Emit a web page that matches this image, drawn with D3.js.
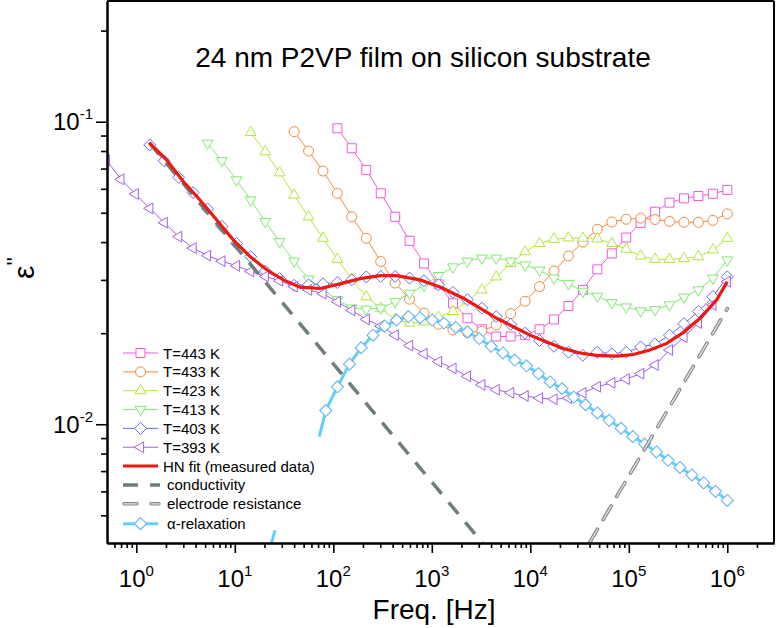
<!DOCTYPE html>
<html><head><meta charset="utf-8">
<script src="https://cdn.jsdelivr.net/npm/d3@7"></script>
<style>
body{margin:0;background:#fff}
svg{display:block}
text{font-family:Arial,"Liberation Sans",Helvetica,sans-serif;fill:#000}
</style>
</head><body>
<svg id="chart" width="776" height="628"></svg>
<script>
// ---------------- DATA ----------------
const freq = [0.497, 0.697, 0.976, 1.37, 1.92, 2.69, 3.77, 5.28, 7.40, 10.4, 14.5, 20.4, 28.5, 40.0, 56.1, 78.6,
  110, 154, 216, 303, 425, 595, 834, 1170, 1640, 2300, 3220, 4510, 6320, 8860, 12400, 17400, 24400, 34200,
  47900, 67200, 94100, 132000, 185000, 259000, 363000, 509000, 714000, 1000000];

const seriesNames = ["T=443 K", "T=433 K", "T=423 K", "T=413 K", "T=403 K", "T=393 K"];

const eps443 = [null, null, null, null, null, null, null, null, null, null, null, null, null, null, null, null,
  0.0951, 0.0817, 0.0693, 0.0580, 0.0485, 0.0404, 0.0340, 0.0290, 0.0251, 0.0224, 0.0206, 0.0195, 0.0195, 0.0197,
  0.0206, 0.0222, 0.0246, 0.0278, 0.0325, 0.0367, 0.0414, 0.0463, 0.0504, 0.0540, 0.0558, 0.0568, 0.0578, 0.0595];
const eps433 = [null, null, null, null, null, null, null, null, null, null, null, null, null,
  0.0927, 0.0800, 0.0687, 0.0580, 0.0485, 0.0412, 0.0345, 0.0293, 0.0259, 0.0233, 0.0214, 0.0205, 0.0201, 0.0203,
  0.0213, 0.0232, 0.0255, 0.0285, 0.0321, 0.0360, 0.0400, 0.0441, 0.0466, 0.0476, 0.0480, 0.0475, 0.0468, 0.0465,
  0.0465, 0.0472, 0.0496];
const eps423 = [null, null, null, null, null, null, null, null, null, null,
  0.0922, 0.0796, 0.0678, 0.0572, 0.0485, 0.0412, 0.0351, 0.0302, 0.0264, 0.0242, 0.0222, 0.0216, 0.0218, 0.0226,
  0.0236, 0.0256, 0.0278, 0.0307, 0.0340, 0.0372, 0.0396, 0.0409, 0.0413, 0.0412, 0.0410, 0.0396, 0.0379, 0.0360,
  0.0351, 0.0351, 0.0353, 0.0358, 0.0377, 0.0412];
const eps413 = [null, null, null, null, null, null, null,
  0.0849, 0.0743, 0.0642, 0.0551, 0.0467, 0.0401, 0.0346, 0.0302, 0.0279, 0.0258, 0.0242, 0.0240, 0.0242, 0.0254,
  0.0271, 0.0288, 0.0310, 0.0331, 0.0346, 0.0354, 0.0354, 0.0346, 0.0336, 0.0323, 0.0304, 0.0292, 0.0275, 0.0265,
  0.0252, 0.0244, 0.0237, 0.0239, 0.0248, 0.0263, 0.0278, 0.0304, 0.0349];
const eps403 = [null, null, null,
  0.0838, 0.0742, 0.0655, 0.0583, 0.0515, 0.0451, 0.0396, 0.0358, 0.0321, 0.0303, 0.0288, 0.0289, 0.0291, 0.0294,
  0.0300, 0.0307, 0.0308, 0.0308, 0.0304, 0.0298, 0.0289, 0.0273, 0.0258, 0.0242, 0.0227, 0.0214, 0.0200, 0.0189,
  0.0181, 0.0173, 0.0169, 0.0173, 0.0171, 0.0173, 0.0180, 0.0184, 0.0197, 0.0215, 0.0236, 0.0264, 0.0307];
const eps393 = [0.0747, 0.0645, 0.0577, 0.0517, 0.0464, 0.0417, 0.0382, 0.0361, 0.0346, 0.0334, 0.0320, 0.0308,
  0.0298, 0.0285, 0.0278, 0.0270, 0.0254, 0.0238, 0.0222, 0.0211, 0.0197, 0.0182, 0.0171, 0.0161, 0.0153, 0.0144,
  0.0135, 0.0130, 0.0127, 0.0124, 0.0122, 0.0121, 0.0122, 0.0127, 0.0133, 0.0137, 0.0141, 0.0147, 0.0157, 0.0176,
  0.0194, 0.0216, 0.0248, 0.0296];

// HN fit of the measured data (T=403 K)
const hnFreq = [1.355, 2.035, 3.00, 4.43, 6.55, 9.65, 14.3, 21.1, 31.1, 45.9, 73.3, 117, 187, 298, 440, 759, 1211,
  2089, 3085, 4560, 6720, 9930, 14680, 21630, 31960, 47210, 75340, 111100, 164100, 242500, 357500, 528000, 781000, 1000000];
const hnVal = [0.0852, 0.0747, 0.0634, 0.0551, 0.0473, 0.0407, 0.0358, 0.0324, 0.0300, 0.0284, 0.0281, 0.0291,
  0.0303, 0.0310, 0.0310, 0.0300, 0.0284, 0.0261, 0.0242, 0.0224, 0.0210, 0.0197, 0.0187, 0.0178, 0.0172, 0.0169,
  0.0168, 0.0170, 0.0176, 0.0185, 0.0201, 0.0224, 0.0258, 0.0296];

// conductivity contribution
const condFreq = [1.355, 3270];
const condVal = [0.0852, 0.00405];

// electrode resistance contribution
const elecFreq = [39800, 1000000];
const elecVal = [0.00405, 0.0241];

// alpha-relaxation
const alphaFreq = [83.8, 110, 146, 192, 253, 333, 439, 579, 763, 1010, 1330, 1750, 2300, 3030, 4000, 5270, 6950,
  9160, 12100, 15900, 21000, 27600, 36400, 48000, 63200, 83400, 110000, 145000, 191000, 251000, 331000, 437000,
  576000, 759000, 1000000];
const alphaVal = [0.0111, 0.0133, 0.0158, 0.0179, 0.0197, 0.0211, 0.0221, 0.0227, 0.0225, 0.0221, 0.0216, 0.0209,
  0.0202, 0.0192, 0.0181, 0.0172, 0.0163, 0.0156, 0.0147, 0.0138, 0.0131, 0.0123, 0.0116, 0.0109, 0.0103, 0.0097,
  0.0091, 0.0086, 0.0081, 0.0076, 0.0072, 0.0068, 0.0064, 0.0060, 0.0056];
// low-frequency wing of the alpha curve (visible pieces)
const alphaWingFreq = [23.6, 25.6, 72.1];
const alphaWingVal = [0.00405, 0.00447, 0.0091];

const xMajor = [1, 10, 100, 1000, 10000, 100000, 1000000];
const xMajorExp = ["0", "1", "2", "3", "4", "5", "6"];
const yMajor = [0.01, 0.1];
const yMajorExp = ["-2", "-1"];

const titleText = "24 nm P2VP film on silicon substrate";
const xTitle = "Freq. [Hz]";

// ---------------- STYLE ----------------
const seriesColors = ["#ef5ad9", "#f28a3c", "#b4e63c", "#7eea6e", "#5f70f0", "#a25ff0"];
const seriesShapes = ["square", "circle", "up", "down", "diamond", "left"];

const svg = d3.select("#chart");
const L = 107, R = 774, T = 1, B = 543;
const x = d3.scaleLog().domain([0.504, 2.98e6]).range([L, R]);
const y = d3.scaleLog().domain([0.00405, 0.2506]).range([B, T]);

function shapePath(type) {
  const p = d3.path();
  if (type === "square") { p.rect(-4.5, -4.5, 9, 9); }
  else if (type === "circle") { p.arc(0, 0, 5, 0, 2 * Math.PI); p.closePath(); }
  else if (type === "up") { p.moveTo(0, -6.2); p.lineTo(5.4, 3.1); p.lineTo(-5.4, 3.1); p.closePath(); }
  else if (type === "down") { p.moveTo(0, 6.2); p.lineTo(5.4, -3.1); p.lineTo(-5.4, -3.1); p.closePath(); }
  else if (type === "diamond") { p.moveTo(0, -6); p.lineTo(6, 0); p.lineTo(0, 6); p.lineTo(-6, 0); p.closePath(); }
  else if (type === "left") { p.moveTo(-6.2, 0); p.lineTo(3.1, -5.4); p.lineTo(3.1, 5.4); p.closePath(); }
  return p.toString();
}

svg.append("defs").append("clipPath").attr("id", "plotclip")
  .append("rect").attr("x", L).attr("y", T).attr("width", R - L).attr("height", B - T);

const plot = svg.append("g").attr("clip-path", "url(#plotclip)");

const line = d3.line().defined(d => d[1] != null).x(d => x(d[0])).y(d => y(d[1]));

// measured series
const allSeries = [eps443, eps433, eps423, eps413, eps403, eps393];
allSeries.forEach((vals, si) => {
  const pts = freq.map((f, i) => [f, vals[i]]);
  plot.append("path").attr("d", line(pts)).attr("fill", "none")
    .attr("stroke", seriesColors[si]).attr("stroke-width", 1);
  plot.append("g").selectAll("path").data(pts.filter(d => d[1] != null)).join("path")
    .attr("transform", d => `translate(${x(d[0])},${y(d[1])})`)
    .attr("d", shapePath(seriesShapes[si]))
    .attr("fill", "#fff").attr("stroke", seriesColors[si]).attr("stroke-width", 1);
});

// alpha relaxation
const alphaColor = "#62cff5", alphaMarker = "#66b5f8";
plot.append("path").attr("d", line(alphaWingFreq.slice(0, 2).map((f, i) => [f, alphaWingVal[i]])))
  .attr("fill", "none").attr("stroke", alphaColor).attr("stroke-width", 3);
const alphaPts = [[alphaWingFreq[2], alphaWingVal[2]]].concat(alphaFreq.map((f, i) => [f, alphaVal[i]]));
plot.append("path").attr("d", line(alphaPts)).attr("fill", "none")
  .attr("stroke", alphaColor).attr("stroke-width", 3);
plot.append("g").selectAll("path").data(alphaFreq.map((f, i) => [f, alphaVal[i]])).join("path")
  .attr("transform", d => `translate(${x(d[0])},${y(d[1])})`)
  .attr("d", shapePath("diamond")).attr("fill", "#fff").attr("stroke", alphaMarker).attr("stroke-width", 1.1);

// conductivity
const condColor = "#6f7d7d";
plot.append("path").attr("d", line(condFreq.map((f, i) => [f, condVal[i]])))
  .attr("fill", "none").attr("stroke", condColor).attr("stroke-width", 3.5).attr("stroke-dasharray", "15,11");

// electrode resistance (hollow dashed)
const elecPts = elecFreq.map((f, i) => [f, elecVal[i]]);
plot.append("path").attr("d", line(elecPts)).attr("fill", "none")
  .attr("stroke", "#7f8888").attr("stroke-width", 3.6).attr("stroke-dasharray", "16,11").attr("stroke-linecap", "round");
plot.append("path").attr("d", line(elecPts)).attr("fill", "none")
  .attr("stroke", "#e4e7e7").attr("stroke-width", 1.3).attr("stroke-dasharray", "16,11").attr("stroke-linecap", "round");

// HN fit
plot.append("path").attr("d", line(hnFreq.map((f, i) => [f, hnVal[i]])))
  .attr("fill", "none").attr("stroke", "#ee1a12").attr("stroke-width", 3.2);

// ---------------- AXES ----------------
const xMinor = [], yMinor = [];
for (let d = 0.1; d <= 1e6; d *= 10) for (let m = 2; m <= 9; m++) {
  const v = d * m; if (v > 0.504 && v < 2.98e6) xMinor.push(v);
}
for (let d = 0.001; d <= 0.1; d *= 10) for (let m = 2; m <= 9; m++) {
  const v = d * m; if (v > 0.00405 && v < 0.2506) yMinor.push(v);
}

function styleAxis(g) {
  g.selectAll(".domain").attr("stroke", "#000").attr("stroke-width", 2);
  g.selectAll(".tick line").attr("stroke", "#000").attr("stroke-width", 1.6);
}
svg.append("g").attr("transform", `translate(0,${B})`)
  .call(d3.axisBottom(x).tickValues(xMajor).tickSize(10).tickSizeOuter(0).tickFormat(""))
  .call(styleAxis);
svg.append("g").attr("transform", `translate(0,${B})`)
  .call(d3.axisBottom(x).tickValues(xMinor).tickSize(5).tickSizeOuter(0).tickFormat(""))
  .call(styleAxis);
svg.append("g").attr("transform", `translate(${L},0)`)
  .call(d3.axisLeft(y).tickValues(yMajor).tickSize(11).tickSizeOuter(0).tickFormat(""))
  .call(styleAxis);
svg.append("g").attr("transform", `translate(${L},0)`)
  .call(d3.axisLeft(y).tickValues(yMinor).tickSize(6).tickSizeOuter(0).tickFormat(""))
  .call(styleAxis);
// frame
svg.append("line").attr("x1", L).attr("x2", R).attr("y1", T).attr("y2", T).attr("stroke", "#000").attr("stroke-width", 2);
svg.append("line").attr("x1", R).attr("x2", R).attr("y1", T).attr("y2", B).attr("stroke", "#000").attr("stroke-width", 2);

// tick labels
xMajor.forEach((v, i) => {
  const t = svg.append("text").attr("x", x(v)).attr("y", 587).attr("text-anchor", "middle").attr("font-size", 24);
  t.append("tspan").text("10");
  t.append("tspan").attr("dy", -11).attr("font-size", 15).text(xMajorExp[i]);
});
yMajor.forEach((v, i) => {
  const t = svg.append("text").attr("x", 93).attr("y", y(v) + 8.5).attr("text-anchor", "end").attr("font-size", 24);
  t.append("tspan").text("10");
  t.append("tspan").attr("dy", -11).attr("font-size", 15).text(yMajorExp[i]);
});

// axis titles
svg.append("text").attr("x", 434).attr("y", 619).attr("text-anchor", "middle")
  .attr("font-size", 28).text(xTitle);
const yt = svg.append("text").attr("transform", "translate(34,268) rotate(-90)")
  .attr("text-anchor", "middle").attr("font-size", 30);
yt.append("tspan").text("ε");
yt.append("tspan").attr("dy", -12).attr("font-size", 22).text("''");

// title
svg.append("text").attr("x", 423).attr("y", 67).attr("text-anchor", "middle")
  .attr("font-size", 28).text(titleText);

// ---------------- LEGEND ----------------
const lg = svg.append("g");
const rowY = i => 353 + i * 18.85;
const lx1 = 123, lx2 = 158, lmx = 140.5;
seriesNames.forEach((name, i) => {
  const yy = rowY(i);
  lg.append("line").attr("x1", lx1).attr("x2", lx2).attr("y1", yy).attr("y2", yy)
    .attr("stroke", seriesColors[i]).attr("stroke-width", 1);
  lg.append("path").attr("transform", `translate(${lmx},${yy})`).attr("d", shapePath(seriesShapes[i]))
    .attr("fill", "#fff").attr("stroke", seriesColors[i]).attr("stroke-width", 1);
  lg.append("text").attr("x", 163).attr("y", yy + 5.5).attr("font-size", 15).text(name);
});
{
  let yy = rowY(6);
  lg.append("line").attr("x1", lx1).attr("x2", lx2).attr("y1", yy).attr("y2", yy)
    .attr("stroke", "#ee1a12").attr("stroke-width", 3);
  lg.append("text").attr("x", 163).attr("y", yy + 5.5).attr("font-size", 15).text("HN fit (measured data)");
  yy = rowY(7);
  lg.append("line").attr("x1", lx1).attr("x2", lx2 + 2).attr("y1", yy).attr("y2", yy)
    .attr("stroke", condColor).attr("stroke-width", 3.5).attr("stroke-dasharray", "15,12");
  lg.append("text").attr("x", 167).attr("y", yy + 5.5).attr("font-size", 15).text("conductivity");
  yy = rowY(8);
  lg.append("line").attr("x1", lx1 + 1).attr("x2", lx2 + 1).attr("y1", yy).attr("y2", yy)
    .attr("stroke", "#7f8888").attr("stroke-width", 3.4).attr("stroke-dasharray", "13,14").attr("stroke-linecap", "round");
  lg.append("line").attr("x1", lx1 + 1).attr("x2", lx2 + 1).attr("y1", yy).attr("y2", yy)
    .attr("stroke", "#e4e7e7").attr("stroke-width", 1.2).attr("stroke-dasharray", "13,14").attr("stroke-linecap", "round");
  lg.append("text").attr("x", 167).attr("y", yy + 5.5).attr("font-size", 15).text("electrode resistance");
  yy = rowY(9) + 1;
  lg.append("line").attr("x1", lx1).attr("x2", lx2).attr("y1", yy).attr("y2", yy)
    .attr("stroke", alphaColor).attr("stroke-width", 3);
  lg.append("path").attr("transform", `translate(${lmx},${yy})`).attr("d", shapePath("diamond"))
    .attr("fill", "#fff").attr("stroke", alphaMarker).attr("stroke-width", 1.1);
  lg.append("text").attr("x", 167).attr("y", yy + 5.5).attr("font-size", 15).text("α-relaxation");
}
</script>
</body></html>
